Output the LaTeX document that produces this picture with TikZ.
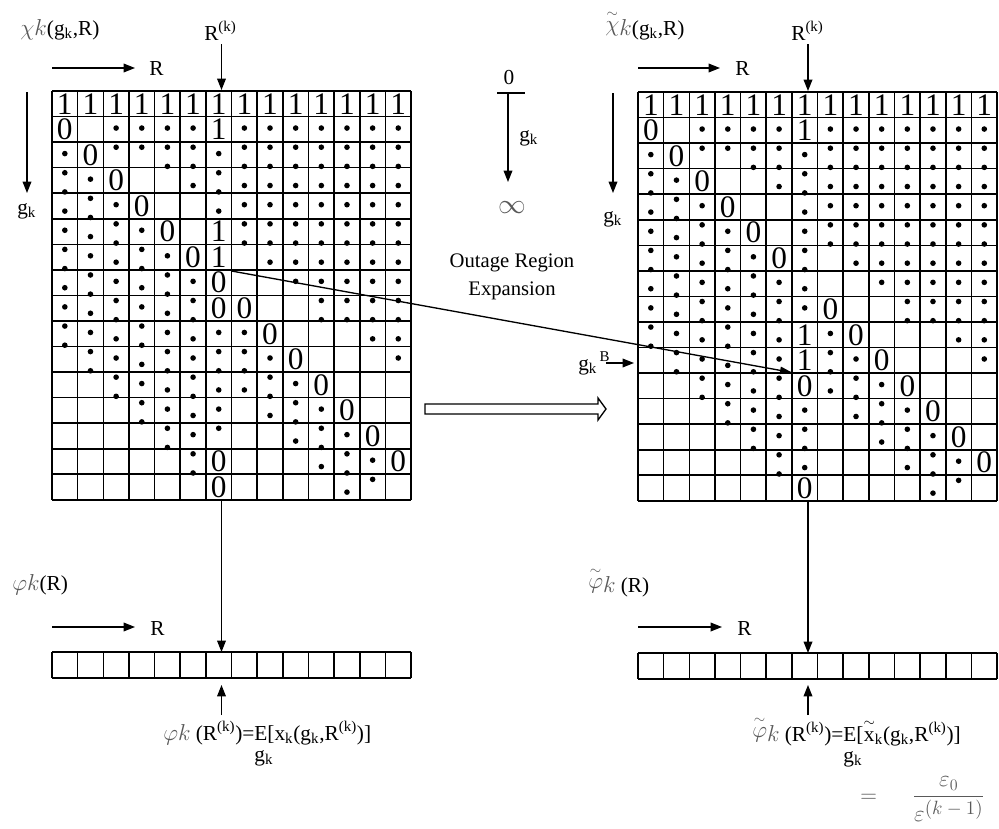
\documentclass[tikz,border=0pt]{standalone}
\usepackage{amsmath}
\usepackage{fontspec}
\setmainfont{Liberation Serif}
\usetikzlibrary{arrows.meta}

\tikzset{
  gridln/.style={line width=1.2pt},
  num/.style={font=\fontsize{23.5}{22}\selectfont, inner sep=0pt, anchor=base},
  lbl/.style={font=\fontsize{16}{19}\selectfont, inner sep=0pt},
  outlbl/.style={font=\fontsize{15.5}{19}\selectfont, inner sep=0pt},
  arr/.style={line width=1pt, -{Triangle[length=8.5pt,width=6.5pt]}},
  longarr/.style={line width=1pt, -{Triangle[length=9pt,width=5.5pt]}},
  hollow/.style={line width=1pt, fill=white},
}
\newcommand\gm[1]{\textcolor{black!65}{$#1$}}
\newcommand\gk{g\textsubscript{k}}
\newcommand\Rk{R\textsuperscript{(k)}}
\newcommand\Eg{\begin{tabular}[t]{@{}l@{}}E\\[-3pt]\makebox[0pt][l]{\gk}\end{tabular}}
\def\gcw{25.65}
\def\gch{25.55}

% grid lines
\newcommand\drawgrid[2]{%
  \foreach \i in {0,...,14} \draw[gridln] ({#1+\i*\gcw},#2) -- ({#1+\i*\gcw},{#2+16*\gch});
  \foreach \j in {0,...,16} \draw[gridln] (#1,{#2+\j*\gch}) -- ({#1+14*\gcw},{#2+\j*\gch});
}
% array lines
\newcommand\drawarray[3]{%
  \foreach \i in {0,...,14} \draw[gridln] ({#1+\i*\gcw},#2) -- ({#1+\i*\gcw},#3);
  \draw[gridln] (#1,#2) -- ({#1+14*\gcw},#2);
  \draw[gridln] (#1,#3) -- ({#1+14*\gcw},#3);
}
% dotted segment: x0, y0, column, start, end (grid units)
\newcommand\dotseg[5]{%
  \foreach \k in {0,...,14}{%
    \pgfmathsetmacro\dyy{#4+0.45+\k*0.75}%
    \pgfmathtruncatemacro\okk{\dyy<#5 ? 1 : 0}%
    \ifnum\okk=1 \fill ({#1+(#3-0.5)*\gcw},{#2+\dyy*\gch}) circle[radius=2.1pt];\fi
  }%
}
\newcommand\commondots[2]{%
  \foreach \c/\s/\e in {1/2/10.3, 2/3/11.3, 3/1/2.9, 3/4/12.3, 4/1/2.9, 4/5/13.3,
      5/1/3.1, 5/6/14.3, 6/1/4, 6/7/15.3, 8/1/6, 8/9/12, 9/1/7, 9/10/13,
      10/1/8, 10/11/14, 11/1/9, 11/12/15, 12/1/9.2, 12/13/16, 13/1/10,
      13/14/15.9, 14/1/11}{\dotseg{#1}{#2}{\c}{\s}{\e}}%
}

\begin{document}
\begin{tikzpicture}[x=0.75pt,y=-0.75pt]
\useasboundingbox (0,0) rectangle (999,828);

% ---------------- left grid ----------------
\def\LX{52}\def\LY{91}
\drawgrid{\LX}{\LY}
\foreach \c in {1,...,14} \node[num] (L-1-\c) at ({\LX+(\c-0.5)*\gcw},{\LY+\gch-2.5}) {1};
\foreach \r/\c/\v in {2/1/0,3/2/0,4/3/0,5/4/0,6/5/0,7/6/0,8/7/0,9/7/0,9/8/0,10/9/0,
    11/10/0,12/11/0,13/12/0,14/13/0,15/14/0,15/7/0,16/7/0,2/7/1,6/7/1,7/7/1}
  \node[num] (L-\r-\c) at ({\LX+(\c-0.5)*\gcw},{\LY+\r*\gch-2.5}) {\v};
\commondots{\LX}{\LY}
\dotseg{\LX}{\LY}{7}{2}{5}
\dotseg{\LX}{\LY}{7}{9}{13.9}

% ---------------- right grid ----------------
\def\RX{638}\def\RY{92}
\drawgrid{\RX}{\RY}
\foreach \c in {1,...,14} \node[num] (R-1-\c) at ({\RX+(\c-0.5)*\gcw},{\RY+\gch-2.5}) {1};
\foreach \r/\c/\v in {2/1/0,3/2/0,4/3/0,5/4/0,6/5/0,7/6/0,9/8/0,10/9/0,
    11/10/0,12/11/0,13/12/0,14/13/0,15/14/0,12/7/0,16/7/0,2/7/1,10/7/1,11/7/1}
  \node[num] (R-\r-\c) at ({\RX+(\c-0.5)*\gcw},{\RY+\r*\gch-2.5}) {\v};
\commondots{\RX}{\RY}
\dotseg{\RX}{\RY}{7}{2}{9}
\dotseg{\RX}{\RY}{7}{12}{15}

% ---------------- arrays ----------------
\drawarray{52}{652}{678}
\drawarray{638}{653}{679}

% ---------------- top-left labels ----------------
\node[lbl, anchor=base west] (chiL) at (20,35) {\gm{\chi k}(\gk,R)};
\coordinate (aRL1) at (52,68); \coordinate (aRL2) at (135,68);
\draw[arr] (aRL1) -- (aRL2);
\node[lbl, anchor=base west] (RL) at (149,75) {R};
\node[lbl, anchor=base west] (RkL) at (204,40) {\Rk};
\coordinate (RkLa) at (221.5,44); \coordinate (RkLb) at (221.5,90);
\draw[arr] (RkLa) -- (RkLb);
\coordinate (gL1) at (27,92); \coordinate (gL2) at (27,193);
\draw[arr] (gL1) -- (gL2);
\node[lbl, anchor=base west] (gkL) at (17,214) {\gk};

% ---------------- top-right labels ----------------
\node[lbl, anchor=base west] (chiR) at (605,35) {\gm{{\stackrel{\sim}{\chi}}k}(\gk,R)};
\coordinate (aRR1) at (638,68); \coordinate (aRR2) at (720,68);
\draw[arr] (aRR1) -- (aRR2);
\node[lbl, anchor=base west] (RR) at (735,75) {R};
\node[lbl, anchor=base west] (RkR) at (791,40) {\Rk};
\coordinate (RkRa) at (808,44); \coordinate (RkRb) at (808,91);
\draw[arr] (RkRa) -- (RkRb);
\coordinate (gR1) at (613,93); \coordinate (gR2) at (613,193);
\draw[arr] (gR1) -- (gR2);
\node[lbl, anchor=base west] (gkR) at (603,222) {\gk};

% ---------------- middle scale ----------------
\coordinate (barL) at (497,93); \coordinate (barR) at (525,93);
\draw[line width=1pt] (barL) -- (barR);
\coordinate (barM) at (508,93); \coordinate (barT) at (508,182);
\draw[arr] (barM) -- (barT);
\node[lbl, anchor=base] (zeroM) at (509,84) {0};
\node[lbl, anchor=base west] (gkM) at (519,141) {\gk};
\node[lbl, font=\fontsize{21}{21}\selectfont] (infM) at (512,208) {\gm{\infty}};

\node[outlbl] (out1) at (512,263) {Outage Region};
\node[outlbl] (out2) at (512,291) {Expansion};

% long arrow
\coordinate (src) at (231.5,271);
\coordinate (dst) at (792,372.5);
\draw[longarr] (src) -- (dst);

% g_k^B
\node[lbl, anchor=base west] (gkB) at (578,370) {\gk\textsuperscript{\,B}};
\coordinate (gB1) at (606,363); \coordinate (gB2) at (634,363);
\draw[arr] (gB1) -- (gB2);

% hollow arrow
\draw[hollow] (425,404) -- (598,404) -- (598,398) -- (606,409) -- (598,420)
  -- (598,414) -- (425,414) -- cycle;

% ---------------- arrows to arrays ----------------
\coordinate (dL1) at (221.5,500); \coordinate (dL2) at (221.5,652);
\draw[arr] (dL1) -- (dL2);
\coordinate (dR1) at (808,501); \coordinate (dR2) at (808,653);
\draw[arr] (dR1) -- (dR2);
\coordinate (uL1) at (221.5,715); \coordinate (uL2) at (221.5,685);
\draw[arr] (uL1) -- (uL2);
\coordinate (uR1) at (808,715); \coordinate (uR2) at (808,685);
\draw[arr] (uR1) -- (uR2);

% ---------------- lower labels ----------------
\node[lbl, anchor=base west] (phiL) at (12,590) {\gm{\varphi k}(R)};
\coordinate (bRL1) at (52,627); \coordinate (bRL2) at (135,627);
\draw[arr] (bRL1) -- (bRL2);
\node[lbl, anchor=base west] (bRL) at (150,635) {R};

\node[lbl, anchor=base west] (phiR) at (588,592) {\gm{{\stackrel{\sim}{\varphi}}k} (R)};
\coordinate (bRR1) at (638,627); \coordinate (bRR2) at (722,627);
\draw[arr] (bRR1) -- (bRR2);
\node[lbl, anchor=base west] (bRR) at (737,635) {R};

% formulas
\node[lbl, anchor=base west] (fL) at (163,740)
  {\gm{\varphi k} (\Rk)=\Eg[x\textsubscript{k}(\gk,\Rk)]};
\node[lbl, anchor=base west] (fR) at (752,741)
  {\gm{{\stackrel{\sim}{\varphi}}k} (\Rk)=\Eg[${\stackrel{\sim}{\mbox{x}}}$\textsubscript{k}(\gk,\Rk)]};
\node[inner sep=0pt, anchor=west, font=\fontsize{18}{20}\selectfont] (fR2) at (860,799)
  {\textcolor{black!65}{$=\hspace{22pt}\dfrac{\varepsilon_0}{\varepsilon^{\mbox{\fontsize{15.5}{15}\selectfont$(k-1)$}}}$}};
\end{tikzpicture}
\end{document}
